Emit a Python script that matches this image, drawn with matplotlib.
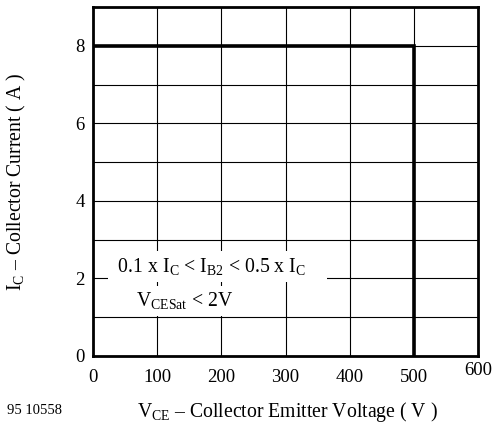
import numpy as np
import matplotlib
matplotlib.use("Agg")
import matplotlib.pyplot as plt

plt.rcParams['font.family'] = ['Liberation Serif', 'DejaVu Serif']
plt.rcParams['mathtext.fontset'] = 'custom'
plt.rcParams['mathtext.rm'] = 'Liberation Serif'
plt.rcParams['mathtext.it'] = 'Liberation Serif'

# safe operating area boundary
vce = [0, 500, 500]
ic = [8, 8, 0]

x_ticks = [0, 100, 200, 300, 400, 500, 600]
y_ticks = [0, 2, 4, 6, 8]
y_minor = [1, 3, 5, 7, 9]

fs = 14.2

fig = plt.figure(figsize=(4.94, 4.24), dpi=100)
ax = fig.add_axes([93/494, 1-356/424, 385/494, 349/424])

ax.plot(vce, ic, color='black', lw=2.6, solid_joinstyle='miter', zorder=3)

ax.set_xlim(0, 600)
ax.set_ylim(0, 9)
ax.set_xticks(x_ticks)
ax.set_yticks(y_ticks)
ax.set_yticks(y_minor, minor=True)
ax.grid(True, which='both', color='black', lw=0.8)
ax.tick_params(which='both', length=0, labelsize=13.5)
ax.tick_params(axis='x', pad=9)
ax.tick_params(axis='y', pad=6)
for s in ax.spines.values():
    s.set_linewidth(2.0)
ax.set_axisbelow(True)

ax.set_xlabel('V$_{\\rm CE}$ – Collector Emitter Voltage ( V )', fontsize=fs)
ax.xaxis.set_label_coords(0.506, -0.125)
ax.set_ylabel('I$_{\\rm C}$ – Collector Current ( A )', fontsize=fs)
ax.yaxis.set_label_coords(-0.17, 0.5)

bb = dict(facecolor='white', edgecolor='none', boxstyle='square,pad=0.25')
ax.text(194, 2.3, ' 0.1 x I$_{\\rm C}$ < I$_{\\rm B2}$ < 0.5 x I$_{\\rm C}$    ',
        ha='center', va='center', fontsize=fs, bbox=bb, zorder=4)
ax.text(142, 1.42, 'V$_{\\rm CESat}$ < 2V',
        ha='center', va='center', fontsize=fs, bbox=bb, zorder=4)

fig.text(7/494, 1-411/424, '95 10558', fontsize=10.5, va='center', ha='left')

fig.canvas.draw()
ax.xaxis.get_major_ticks()[-1].set_pad(4)

fig.savefig('out.png', dpi=100)
